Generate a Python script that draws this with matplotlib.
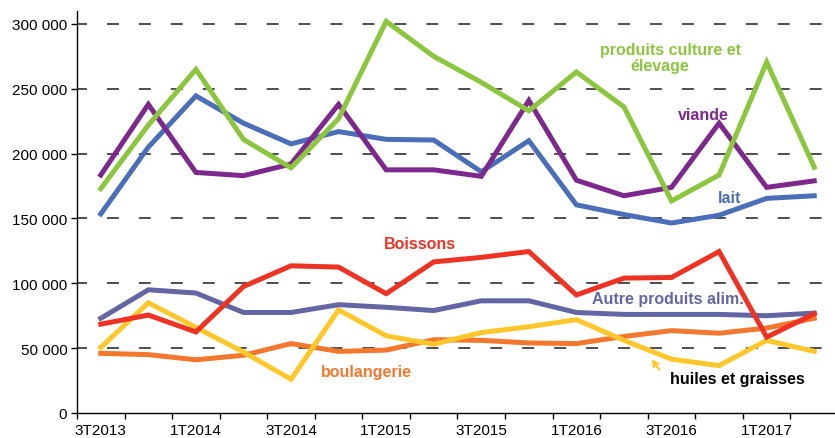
import matplotlib
matplotlib.use("Agg")
import matplotlib.pyplot as plt
from matplotlib.ticker import FuncFormatter, FixedLocator

plt.rcParams['font.family'] = ['Liberation Sans', 'DejaVu Sans']

quarters = ["3T2013", "4T2013", "1T2014", "2T2014", "3T2014", "4T2014",
            "1T2015", "2T2015", "3T2015", "4T2015", "1T2016", "2T2016",
            "3T2016", "4T2016", "1T2017", "2T2017"]

culture_elevage = [173000, 222000, 265000, 211000, 189000, 227000, 302000, 275000,
                   255000, 233000, 263000, 236000, 163500, 183500, 270500, 189500]
viande = [183500, 238000, 185500, 183000, 192000, 238000, 187500, 187500,
          182500, 241000, 179500, 167500, 174000, 223500, 174000, 179000]
lait = [153500, 205000, 244500, 223500, 207500, 217000, 211000, 210500,
        186000, 210000, 160500, 153000, 146500, 152500, 165500, 167500]
boissons = [68500, 75500, 62500, 97500, 113500, 112500, 92000, 116500,
            120000, 124500, 91000, 104000, 104500, 124500, 58500, 76500]
autre_alim = [73000, 95000, 92500, 77500, 77500, 83500, 81500, 79000,
              86500, 86500, 77500, 76000, 76000, 76000, 75000, 77000]
huiles = [50500, 85000, 66000, 47000, 26000, 79500, 59500, 53000,
          62000, 66500, 72000, 56000, 41500, 36500, 56000, 47500]
boulangerie = [46000, 45000, 41000, 44500, 53500, 47500, 48500, 56500,
               56000, 54000, 53500, 59000, 63500, 61500, 65500, 73000]

yticks = [0, 50000, 100000, 150000, 200000, 250000, 300000]

c_green = "#8CC63E"
c_purple = "#7D288C"
c_blue = "#4A6EB8"
c_red = "#EE3224"
c_slate = "#6466A4"
c_yellow = "#FFC72C"
c_orange = "#F4772E"

fig = plt.figure(figsize=(8.35, 4.39), dpi=100)
ax = fig.add_axes([0.0922, 0.057, 0.9114, 0.9157])

x = list(range(len(quarters)))
lw = 3.6
series = [
    (boulangerie, c_orange),
    (huiles, c_yellow),
    (autre_alim, c_slate),
    (boissons, c_red),
    (lait, c_blue),
    (viande, c_purple),
    (culture_elevage, c_green),
]
for vals, col in series:
    ax.plot(x, vals, color=col, lw=lw, solid_joinstyle='miter', zorder=3)

ax.set_xlim(-0.5, 15.5)
ax.set_ylim(0, 310000)

# grid
glw = 1.3
for v in yticks[1:]:
    ax.axhline(v, color="#404040", lw=glw,
               linestyle=(1.44 / glw, (8.6 / glw, 14.4 / glw)), zorder=1)

ax.set_yticks(yticks)
ax.yaxis.set_major_formatter(FuncFormatter(lambda v, p: f"{int(v):,}".replace(",", " ")))
ax.tick_params(axis='y', direction='out', length=4, width=1, labelsize=11, pad=3, colors='black')

ax.xaxis.set_major_locator(FixedLocator([i - 0.5 for i in range(17)]))
ax.set_xticklabels([])
ax.set_xticks(x[::2], minor=True)
ax.set_xticklabels(quarters[::2], minor=True)
ax.tick_params(axis='x', which='major', direction='out', length=4, width=1)
ax.tick_params(axis='x', which='minor', length=0, labelsize=11, pad=7)

for s in ['top', 'right']:
    ax.spines[s].set_visible(False)
for s in ['left', 'bottom']:
    ax.spines[s].set_linewidth(1.0)
    ax.spines[s].set_color('black')

def px(xp, yp):
    return (xp / 835.0, 1 - yp / 439.0)

fs = 11.5
def label(txt, xp, yp, col):
    fig.text(*px(xp, yp), txt, color=col, fontsize=fs, fontweight='bold',
             ha='center', va='center')

label("produits culture et", 670, 50, c_green)
label("élevage", 660, 67, c_green)
label("viande", 703, 115, c_purple)
label("lait", 730, 199, c_blue)
label("Boissons", 420, 245, c_red)
label("Autre produits alim.", 668, 300, c_slate)
label("boulangerie", 366, 372, c_orange)
label("huiles et graisses", 737, 380, "black")

ax.annotate("", xy=px(650, 358), xytext=px(661, 373), xycoords='figure fraction',
            textcoords='figure fraction',
            arrowprops=dict(arrowstyle="->", color=c_yellow, lw=1.5,
                            mutation_scale=10))

fig.savefig("out.png", dpi=100)
